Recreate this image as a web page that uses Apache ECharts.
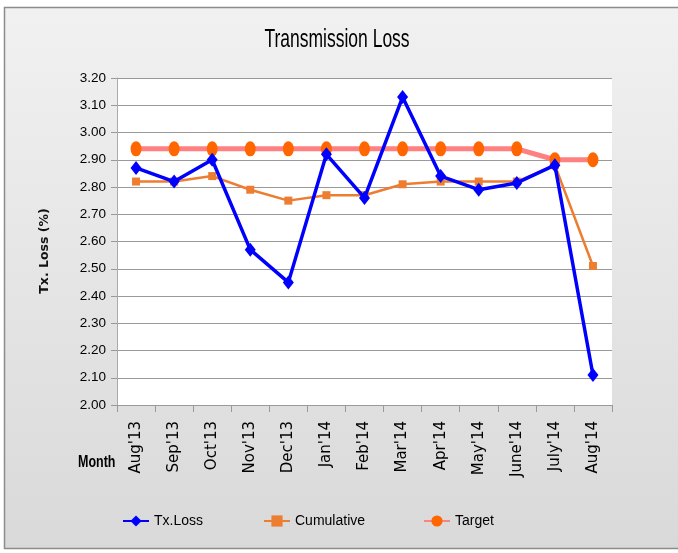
<!DOCTYPE html>
<html><head><meta charset="utf-8">
<script src="https://cdn.jsdelivr.net/npm/echarts@6/dist/echarts.min.js"></script>
<style>html,body{margin:0;padding:0;background:#fff;}#c{width:678px;height:553px;}</style>
</head><body><div id="c"></div>
<script>
const months = ["Aug'13","Sep'13","Oct'13","Nov'13","Dec'13","Jan'14","Feb'14","Mar'14","Apr'14","May'14","June'14","July'14","Aug'14"];
const txLoss = [2.87,2.82,2.90,2.57,2.45,2.92,2.76,3.13,2.84,2.79,2.815,2.88,2.11];
const cumulative = [2.82,2.82,2.84,2.79,2.75,2.77,2.77,2.81,2.82,2.82,2.82,2.88,2.51];
const target = [2.94,2.94,2.94,2.94,2.94,2.94,2.94,2.94,2.94,2.94,2.94,2.90,2.90];
const yTicks = {min:2.0, max:3.2, interval:0.1};

const sans = "'Liberation Sans', Arial, sans-serif";
const wide = "'DejaVu Sans', Verdana, sans-serif";
const chart = echarts.init(document.getElementById('c'));
const legendText = {fontFamily:sans, fontSize:14, color:'#000'};
chart.setOption({
  animation:false,
  backgroundColor:'#ffffff',
  graphic:[{
    type:'rect', z:-10, silent:true,
    shape:{x:4.5,y:7.5,width:680,height:541},
    style:{fill:new echarts.graphic.LinearGradient(0,0,0,1,[{offset:0,color:'#f1f1f1'},{offset:1,color:'#d9d9d9'}]),stroke:'#8c8c8c',lineWidth:1.5}
  },{
    type:'text', x:337, y:40, scaleX:0.7, silent:true,
    style:{text:'Transmission Loss', font:"25px "+sans, fill:'#000', textAlign:'center', textVerticalAlign:'middle'}
  },{
    type:'text', x:78, y:463, scaleX:0.78, silent:true,
    style:{text:'Month', font:"bold 16px "+sans, fill:'#000', textAlign:'left', textVerticalAlign:'middle'}
  },{
    type:'text', x:45, y:251, rotation:Math.PI/2, silent:true,
    style:{text:'Tx. Loss (%)', font:"bold 12.5px "+wide, fill:'#111', textAlign:'center', textVerticalAlign:'middle'}
  }],
  grid:{left:117, right:66, top:78, bottom:148, containLabel:false,
    show:true, backgroundColor:'#ffffff', borderWidth:0},
  legend:[
    {left:117, top:509, itemWidth:26, itemHeight:14, itemGap:4, textStyle:legendText, data:['Tx.Loss']},
    {left:258, top:509, itemWidth:26, itemHeight:14, itemGap:4, textStyle:legendText, data:['Cumulative']},
    {left:418, top:509, itemWidth:26, itemHeight:14, itemGap:4, textStyle:legendText, data:['Target']}
  ],
  xAxis:{type:'category', data:months, boundaryGap:true,
    axisLine:{lineStyle:{color:'#999',width:1}},
    axisTick:{show:true, length:7, lineStyle:{color:'#999'}},
    axisLabel:{rotate:90, margin:16, fontFamily:wide, fontWeight:'normal', fontSize:15, color:'#000'}},
  yAxis:{type:'value', min:yTicks.min, max:yTicks.max, interval:yTicks.interval,
    axisLine:{show:true, lineStyle:{color:'#aaa',width:1}},
    axisTick:{show:true, length:6, lineStyle:{color:'#999'}},
    splitLine:{lineStyle:{color:'#999',width:1}},
    axisLabel:{formatter:v=>v.toFixed(2), fontFamily:sans, fontSize:13.5, color:'#000', margin:11}},
  series:[
    {name:'Target', type:'line', data:target, z:2,
      lineStyle:{color:'#ff8080', width:5}, itemStyle:{color:'#ff6600'},
      symbol:'circle', symbolSize:[11,15]},
    {name:'Cumulative', type:'line', data:cumulative, z:3,
      lineStyle:{color:'#ed7d31', width:2.5}, itemStyle:{color:'#ed7d31'},
      symbol:'rect', symbolSize:8},
    {name:'Tx.Loss', type:'line', data:txLoss, z:4,
      lineStyle:{color:'#0000ff', width:3.5}, itemStyle:{color:'#0000ff'},
      symbol:'diamond', symbolSize:[11,14]}
  ]
});
</script></body></html>
